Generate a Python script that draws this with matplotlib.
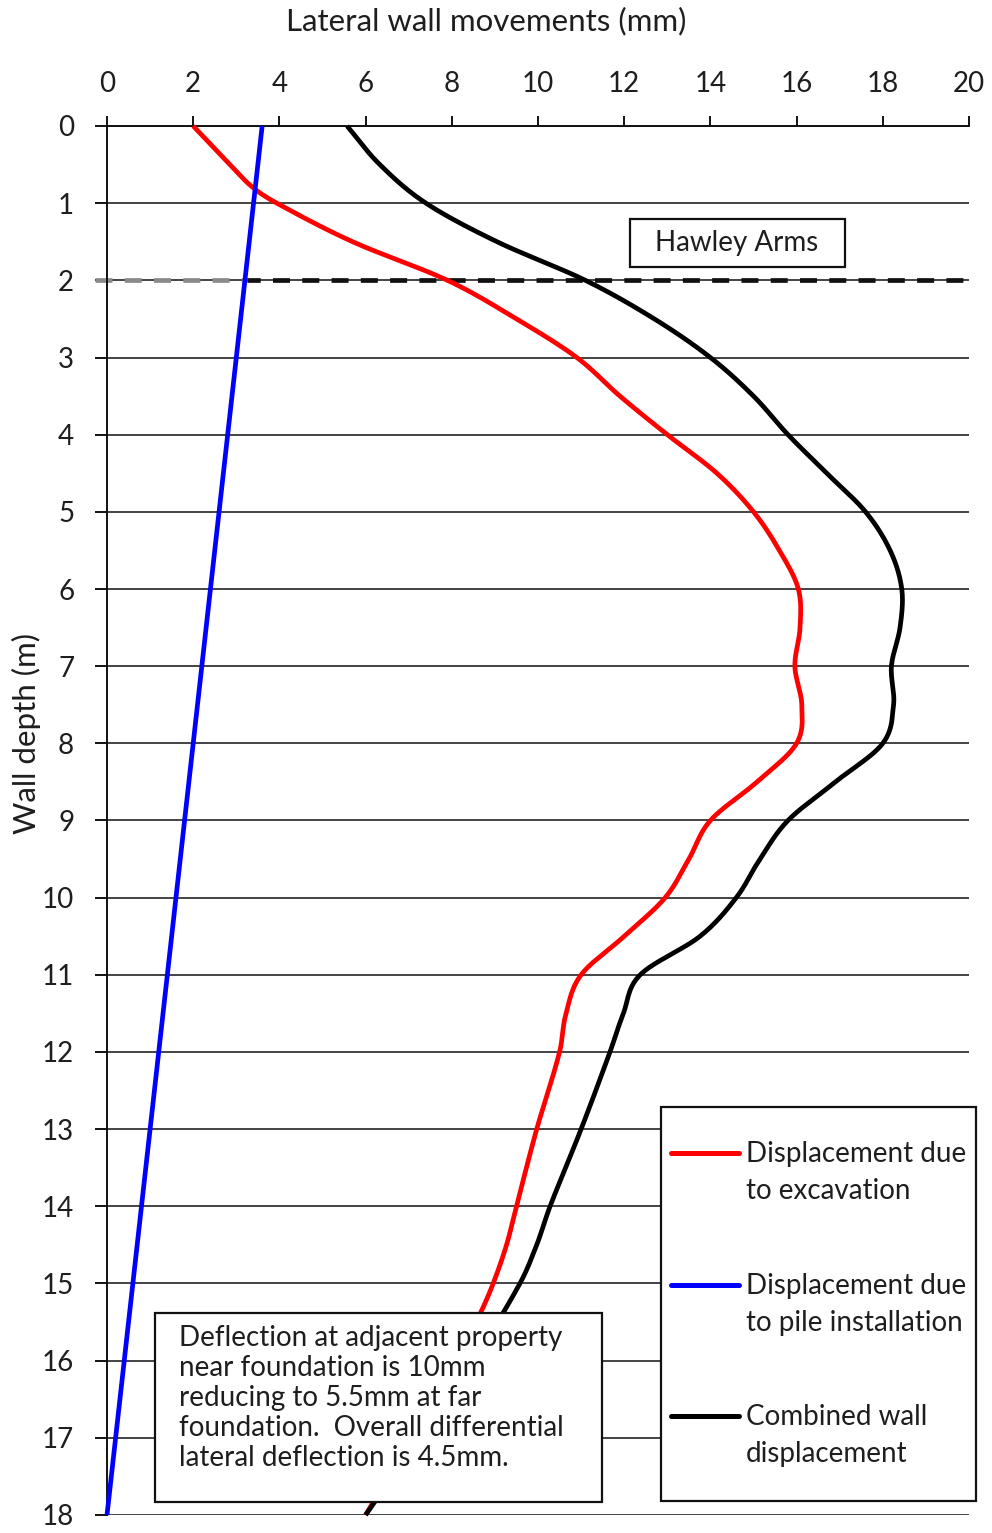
import numpy as np
import matplotlib
matplotlib.use("Agg")
import matplotlib.pyplot as plt
from matplotlib.patches import Rectangle

# ---- data -------------------------------------------------------------
depth_exc = [0, 0.5, 0.8, 1, 1.5, 2, 2.5, 3, 3.5, 4, 4.5, 5, 5.5, 6, 6.5, 7,
             7.5, 8, 8.5, 9, 9.5, 10, 10.5, 11, 11.5, 12, 13, 14, 14.5, 15,
             15.4, 16, 17, 18]
disp_exc = [2.0, 2.85, 3.39, 3.94, 5.7, 7.9, 9.5, 10.9, 11.9, 13.0, 14.15,
            15.0, 15.6, 16.04, 16.08, 15.96, 16.12, 16.0, 15.08, 14.0, 13.5,
            12.95, 12.0, 11.0, 10.65, 10.5, 9.97, 9.5, 9.27, 8.96, 8.65, 8.1,
            7.05, 6.0]

depth_pile = [0, 18]
disp_pile = [3.6, 0.0]

depth_comb = [0, 0.5, 1, 1.5, 2, 2.5, 3, 3.5, 4, 4.5, 5, 5.5, 6, 6.5, 7, 7.5,
              8, 8.5, 9, 9.5, 10, 10.5, 11, 11.5, 12, 13, 14, 14.5, 15, 16,
              17, 18]
disp_comb = [5.57, 6.33, 7.4, 9.05, 11.1, 12.7, 14.0, 15.0, 15.8, 16.7, 17.6,
             18.17, 18.44, 18.4, 18.2, 18.25, 18.0, 16.9, 15.8, 15.15, 14.6,
             13.76, 12.37, 11.98, 11.67, 11.0, 10.28, 9.97, 9.58, 8.5, 7.25,
             6.0]

x_ticks = list(range(0, 21, 2))
y_ticks = list(range(0, 19))
hawley_depth = 2.0

series_labels = ["Displacement due\nto excavation",
                 "Displacement due\nto pile installation",
                 "Combined wall\ndisplacement"]
series_colors = ["#ff0000", "#0000ff", "#000000"]

note_text = ("Deflection at adjacent property\n"
             "near foundation is 10mm\n"
             "reducing to 5.5mm at far\n"
             "foundation.  Overall differential\n"
             "lateral deflection is 4.5mm.")


def smooth(depth, values, n=25):
    """Cubic Hermite through the points with centred tangents, like a
    spreadsheet 'smoothed line'."""
    d = np.asarray(depth, float)
    v = np.asarray(values, float)
    if len(d) < 3:
        return v, d
    m = np.zeros_like(v)
    m[1:-1] = (v[2:] - v[:-2]) / (d[2:] - d[:-2])
    m[0] = (v[1] - v[0]) / (d[1] - d[0])
    m[-1] = (v[-1] - v[-2]) / (d[-1] - d[-2])
    xs, ys = [], []
    for i in range(len(d) - 1):
        h = d[i + 1] - d[i]
        t = np.linspace(0, 1, n, endpoint=(i == len(d) - 2))
        h00 = 2 * t**3 - 3 * t**2 + 1
        h10 = t**3 - 2 * t**2 + t
        h01 = -2 * t**3 + 3 * t**2
        h11 = t**3 - t**2
        xs.append(h00 * v[i] + h10 * h * m[i] + h01 * v[i + 1] + h11 * h * m[i + 1])
        ys.append(d[i] + t * h)
    return np.concatenate(xs), np.concatenate(ys)


# ---- figure ------------------------------------------------------------
W, H = 992, 1533
FONT = "Lato"
FS = 20
FS_TITLE = 22.5
TXT = "#1e1e1e"
plt.rcParams["font.family"] = [FONT, "DejaVu Sans"]

fig = plt.figure(figsize=(W / 100, H / 100), dpi=100)
ax = fig.add_axes([107 / W, 1 - 1515 / H, 862 / W, 1389 / H])


def px_to_depth(py):
    """Figure pixel row -> depth value on this axes."""
    return (py - 126) / (1389 / 18)


def px_to_mm(px):
    """Figure pixel column -> displacement value on this axes."""
    return (px - 107) / (862 / 20)


ax.set_xlim(0, 20)
ax.set_ylim(18, 0)
ax.xaxis.tick_top()
ax.set_xticks(x_ticks)
ax.set_yticks(y_ticks)
ax.tick_params(axis="x", direction="out", length=7.5, width=1.3,
               pad=13.5, labelsize=FS, labelcolor=TXT)
ax.tick_params(axis="y", direction="out", length=8.6, width=1.3,
               pad=15, labelsize=FS, labelcolor=TXT)
for s in ("right", "bottom"):
    ax.spines[s].set_visible(False)
for s in ("left", "top"):
    ax.spines[s].set_linewidth(1.4)
    ax.spines[s].set_color("#111111")
ax.yaxis.grid(True, color="#111111", lw=1.1)
ax.xaxis.grid(False)

fig.text(486 / W, 1 - 21 / H, "Lateral wall movements (mm)", ha="center",
         va="center", fontsize=FS_TITLE, color=TXT)
fig.text(26 / W, 1 - 734 / H, "Wall depth (m)", ha="center", va="center",
         rotation=90, fontsize=FS_TITLE, color=TXT)

# Hawley Arms foundation level
ax.plot([-0.28, 3.25], [hawley_depth, hawley_depth], color="#8a8a8a",
        lw=3.4, ls=(0, (3.6, 2.6)), clip_on=False, zorder=2.2)
ax.plot([3.25, 20], [hawley_depth, hawley_depth], color="#111111",
        lw=3.4, ls=(0.8, (3.6, 2.6)), clip_on=False, zorder=2.2)

# series
for (dep, val), col, lab in zip(
        [(depth_exc, disp_exc), (depth_pile, disp_pile), (depth_comb, disp_comb)],
        series_colors, series_labels):
    xs, ys = smooth(dep, val)
    ax.plot(xs, ys, color=col, lw=3.4, solid_capstyle="butt", zorder=3,
            clip_on=False, label=lab)

# Hawley Arms label box
ax.add_patch(Rectangle((px_to_mm(630), px_to_depth(219)),
                       px_to_mm(845) - px_to_mm(630),
                       px_to_depth(267) - px_to_depth(219),
                       fc="white", ec="#111111", lw=1.6, zorder=4))
ax.text(px_to_mm(737), px_to_depth(243), "Hawley Arms", ha="center",
        va="center", fontsize=FS, color=TXT, zorder=5)


def line_block(x_px, first_base_px, step_px, text):
    for k, line in enumerate(text.split("\n")):
        ax.text(px_to_mm(x_px), px_to_depth(first_base_px + k * step_px), line,
                ha="left", va="baseline", fontsize=FS, color=TXT, zorder=6,
                clip_on=False)


# note box
ax.add_patch(Rectangle((px_to_mm(155), px_to_depth(1313)),
                       px_to_mm(602) - px_to_mm(155),
                       px_to_depth(1502) - px_to_depth(1313),
                       fc="white", ec="#111111", lw=1.6, zorder=4,
                       clip_on=False))
line_block(179, 1346, 30, note_text)

# legend box
ax.add_patch(Rectangle((px_to_mm(661), px_to_depth(1107)),
                       px_to_mm(976) - px_to_mm(661),
                       px_to_depth(1501) - px_to_depth(1107),
                       fc="white", ec="#111111", lw=1.6, zorder=4,
                       clip_on=False))
leg_baselines = [1162, 1294, 1425]
for lab, col, base in zip(series_labels, series_colors, leg_baselines):
    yl = px_to_depth(base - 9)
    ax.plot([px_to_mm(671), px_to_mm(739)], [yl, yl], color=col, lw=3.6,
            solid_capstyle="round", zorder=5, clip_on=False)
    line_block(746, base, 37, lab)

fig.savefig("out.png", dpi=100)
